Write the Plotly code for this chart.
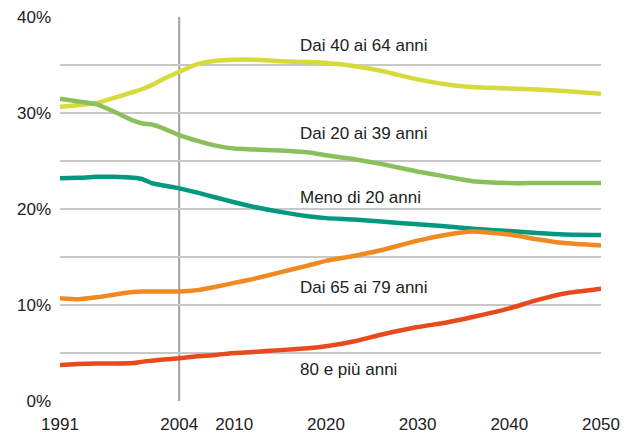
import plotly.graph_objects as go

years = [1991, 1993, 1995, 1997, 1999, 2000, 2001, 2002, 2004, 2006, 2008, 2010, 2012,
         2015, 2018, 2020, 2023, 2026, 2030, 2033, 2036, 2040, 2043, 2046, 2050]

age_40_64 = [30.65, 30.8, 31.05, 31.6, 32.2, 32.5, 32.9, 33.4, 34.3, 35.1, 35.45, 35.55, 35.55,
             35.4, 35.3, 35.2, 34.9, 34.4, 33.5, 33.0, 32.7, 32.55, 32.45, 32.3, 32.0]
age_20_39 = [31.5, 31.2, 30.9, 30.1, 29.2, 28.9, 28.8, 28.5, 27.7, 27.1, 26.6, 26.3, 26.2,
             26.1, 25.9, 25.6, 25.2, 24.7, 23.9, 23.4, 22.9, 22.7, 22.7, 22.7, 22.7]
under_20 = [23.2, 23.25, 23.35, 23.35, 23.25, 23.1, 22.7, 22.5, 22.15, 21.7, 21.2, 20.7, 20.25,
            19.7, 19.25, 19.05, 18.9, 18.7, 18.4, 18.2, 17.95, 17.7, 17.5, 17.35, 17.3]
age_65_79 = [10.7, 10.6, 10.8, 11.1, 11.35, 11.4, 11.4, 11.4, 11.4, 11.55, 11.9, 12.3, 12.7,
             13.4, 14.1, 14.6, 15.1, 15.7, 16.7, 17.3, 17.65, 17.35, 16.85, 16.45, 16.2]
over_80 = [3.75, 3.85, 3.9, 3.9, 3.95, 4.1, 4.2, 4.3, 4.45, 4.65, 4.8, 5.0, 5.1,
           5.3, 5.5, 5.7, 6.2, 6.9, 7.7, 8.15, 8.75, 9.65, 10.5, 11.2, 11.7]

series = [
    ('Dai 40 ai 64 anni', age_40_64, '#d5db3b', 37.0),
    ('Dai 20 ai 39 anni', age_20_39, '#8bbf5c', 27.9),
    ('Meno di 20 anni', under_20, '#00997f', 21.25),
    ('Dai 65 ai 79 anni', age_65_79, '#f08a20', 11.8),
    ('80 e più anni', over_80, '#e8491d', 3.3),
]

tick_years = [1991, 2004, 2010, 2020, 2030, 2040, 2050]
label_year = 2017

fig = go.Figure()

# vertical marker at 2004
fig.add_shape(type='line', x0=2004, x1=2004, y0=0, y1=40,
              xref='x', yref='y', line=dict(color='#a0a0a0', width=2), layer='below')

for name, vals, color, ly in series:
    fig.add_trace(go.Scatter(x=years, y=vals, mode='lines', name=name,
                             line=dict(color=color, width=4.5, shape='spline', smoothing=0.5)))
    fig.add_annotation(x=label_year, y=ly, text=name, showarrow=False,
                       xanchor='left', yanchor='middle',
                       font=dict(size=17, color='#222222'))

# page body adds an 8px offset, so the figure is sized/margined to compensate
fig.update_layout(
    width=621, height=430,
    margin=dict(l=52, r=28, t=9, b=37),
    plot_bgcolor='white', paper_bgcolor='white',
    showlegend=False,
    font=dict(family='Liberation Sans, Arial, sans-serif', color='#222222'),
)
fig.update_xaxes(range=[1991, 2050], tickvals=tick_years, showgrid=False,
                 zeroline=False, showline=False, ticks='', automargin=False,
                 tickfont=dict(size=17), ticklabelstandoff=11,
                 ticklabeloverflow='allow')
fig.update_yaxes(range=[0, 40], tickvals=[0, 5, 10, 15, 20, 25, 30, 35, 40],
                 ticktext=['0%', '', '10%', '', '20%', '', '30%', '', '40%'],
                 showgrid=True, gridcolor='#c8c8c8', gridwidth=1.5,
                 zeroline=False, showline=False, ticks='', automargin=False,
                 tickfont=dict(size=17), ticklabelstandoff=8,
                 ticklabeloverflow='allow')

fig.write_html("out.html")
